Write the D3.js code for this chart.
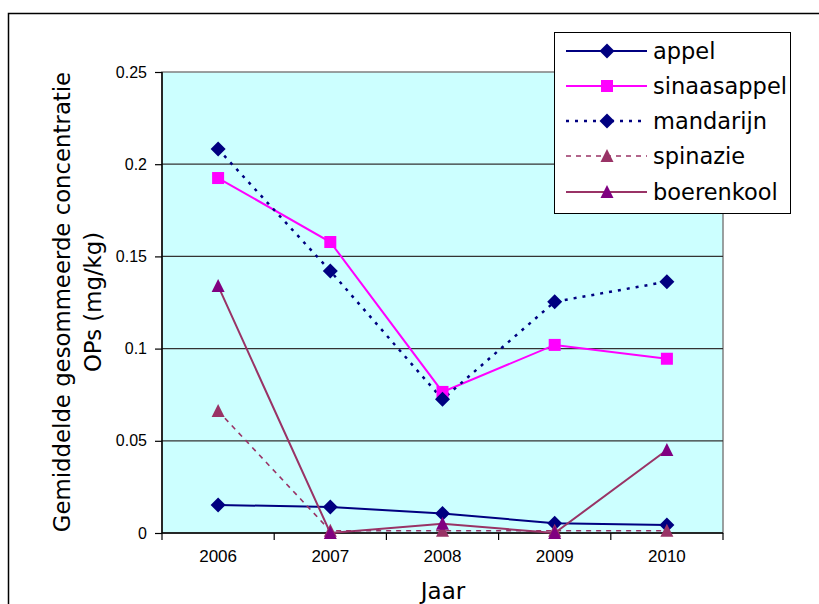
<!DOCTYPE html>
<html><head><meta charset="utf-8">
<script src="https://cdn.jsdelivr.net/npm/d3@7"></script>
<style>body{margin:0;background:#fff}svg{display:block}</style>
</head><body>
<svg id="c" width="819" height="604"></svg>
<script>
const years = ["2006","2007","2008","2009","2010"];
const appel = [0.0152, 0.0141, 0.0106, 0.0053, 0.0043];
const sinaasappel = [0.1925, 0.1578, 0.0765, 0.1020, 0.0945];
const mandarijn = [0.2082, 0.1421, 0.0725, 0.1254, 0.1363];
const spinazie = [0.0662, 0.0012, 0.0012, 0.0012, 0.0012];
const boerenkool = [0.1340, 0.0000, 0.0050, 0.0000, 0.0450];
const yTicks = [0, 0.05, 0.1, 0.15, 0.2, 0.25];
const yTickLabels = ["0","0.05","0.1","0.15","0.2","0.25"];

const series = [
  {name:"appel", values:appel, stroke:"#000080", dash:null, width:2, marker:"diamond", fill:"#000080"},
  {name:"sinaasappel", values:sinaasappel, stroke:"#ff00ff", dash:null, width:2, marker:"square", fill:"#ff00ff"},
  {name:"mandarijn", values:mandarijn, stroke:"#000080", dash:"3,6", width:2.5, marker:"diamond", fill:"#000080"},
  {name:"spinazie", values:spinazie, stroke:"#993366", dash:"5,5", width:1.6, marker:"triangle", fill:"#993366"},
  {name:"boerenkool", values:boerenkool, stroke:"#993366", dash:null, width:2, marker:"triangle", fill:"#800080"}
];

const svg = d3.select("#c");
const L=162, R=723, T=72, B=533;
const x = d3.scaleBand().domain(years).range([L,R]);
const y = d3.scaleLinear().domain([0,0.25]).range([B,T]);
const FONT = "DejaVu Sans, Verdana, sans-serif";

svg.append("path").attr("d","M8.5,604 L8.5,13.5 L819,13.5").attr("fill","none").attr("stroke","#000").attr("stroke-width",1.5);

svg.append("rect").attr("x",L).attr("y",T).attr("width",R-L).attr("height",B-T).attr("fill","#ccffff").attr("stroke","#808080").attr("stroke-width",1.5);

svg.append("g").selectAll("line").data(yTicks.filter(d=>d>0 && d<0.25)).join("line")
  .attr("x1",L).attr("x2",R).attr("y1",d=>y(d)).attr("y2",d=>y(d))
  .attr("stroke","#333").attr("stroke-width",1.2);

const yAxis = d3.axisLeft(y).tickValues(yTicks).tickFormat((d,i)=>yTickLabels[i]).tickSize(7).tickPadding(8);
const gy = svg.append("g").attr("transform",`translate(${L},0)`).call(yAxis);
gy.select(".domain").attr("stroke","#000").attr("stroke-width",1.5).attr("d",`M0,${T}V${B}`);
gy.selectAll(".tick line").attr("stroke","#000").attr("stroke-width",1.2);
gy.selectAll("text").attr("font-family","Liberation Sans, Arial, sans-serif").attr("font-size",16).attr("fill","#000");

const gx = svg.append("g").attr("transform",`translate(0,${B})`).call(d3.axisBottom(x).tickSize(0).tickPadding(17));
gx.select(".domain").attr("stroke","#000").attr("stroke-width",1.5).attr("d",`M${L},0H${R}`);
gx.selectAll("text").attr("font-family","Liberation Sans, Arial, sans-serif").attr("font-size",17).attr("fill","#000");
const bounds = [L].concat(years.map(d=>x(d)+x.bandwidth()));
svg.append("g").selectAll("line").data(bounds).join("line")
  .attr("x1",d=>d).attr("x2",d=>d).attr("y1",B).attr("y2",B+7).attr("stroke","#000").attr("stroke-width",1.2);

function marker(sel, type, fill){
  if(type==="diamond"){
    sel.append("path").attr("d","M0,-7.5L7.5,0L0,7.5L-7.5,0Z").attr("fill",fill);
  } else if(type==="square"){
    sel.append("rect").attr("x",-6).attr("y",-6).attr("width",12).attr("height",12).attr("fill",fill);
  } else {
    sel.append("path").attr("d","M0,-7L6.5,6L-6.5,6Z").attr("fill",fill);
  }
}

const line = d3.line().x((d,i)=>x(years[i])+x.bandwidth()/2).y(d=>y(d));
const gLines = svg.append("g");
series.forEach(s=>{
  gLines.append("path").attr("d",line(s.values)).attr("fill","none")
    .attr("stroke",s.stroke).attr("stroke-width",s.width).attr("stroke-dasharray",s.dash);
});
series.forEach(s=>{
  s.values.forEach((v,i)=>{
    const g = gLines.append("g").attr("transform",`translate(${x(years[i])+x.bandwidth()/2},${y(v)})`);
    marker(g, s.marker, s.fill);
  });
});

svg.append("text").attr("x",443).attr("y",599).attr("text-anchor","middle")
  .attr("font-family",FONT).attr("font-size",23).text("Jaar");
const yt = svg.append("text").attr("transform","translate(70,302) rotate(-90)").attr("text-anchor","middle")
  .attr("font-family",FONT).attr("font-size",22.8);
yt.append("tspan").attr("x",0).attr("dy",0).text("Gemiddelde gesommeerde concentratie");
yt.append("tspan").attr("x",0).attr("dy",31).text("OPs (mg/kg)");

const lg = svg.append("g");
lg.append("rect").attr("x",554.5).attr("y",32.5).attr("width",236).attr("height",181).attr("fill","#fff").attr("stroke","#000").attr("stroke-width",1);
const ly = [51,86,121,156,192];
series.forEach((s,i)=>{
  lg.append("line").attr("x1",566).attr("x2",647).attr("y1",ly[i]).attr("y2",ly[i])
    .attr("stroke",s.stroke).attr("stroke-width",s.width).attr("stroke-dasharray",s.dash);
  const g = lg.append("g").attr("transform",`translate(607,${ly[i]})`);
  marker(g, s.marker, s.fill);
  lg.append("text").attr("x",653).attr("y",ly[i]+8).attr("font-family",FONT)
    .attr("font-size",22.5).text(s.name);
});
</script>
</body></html>
